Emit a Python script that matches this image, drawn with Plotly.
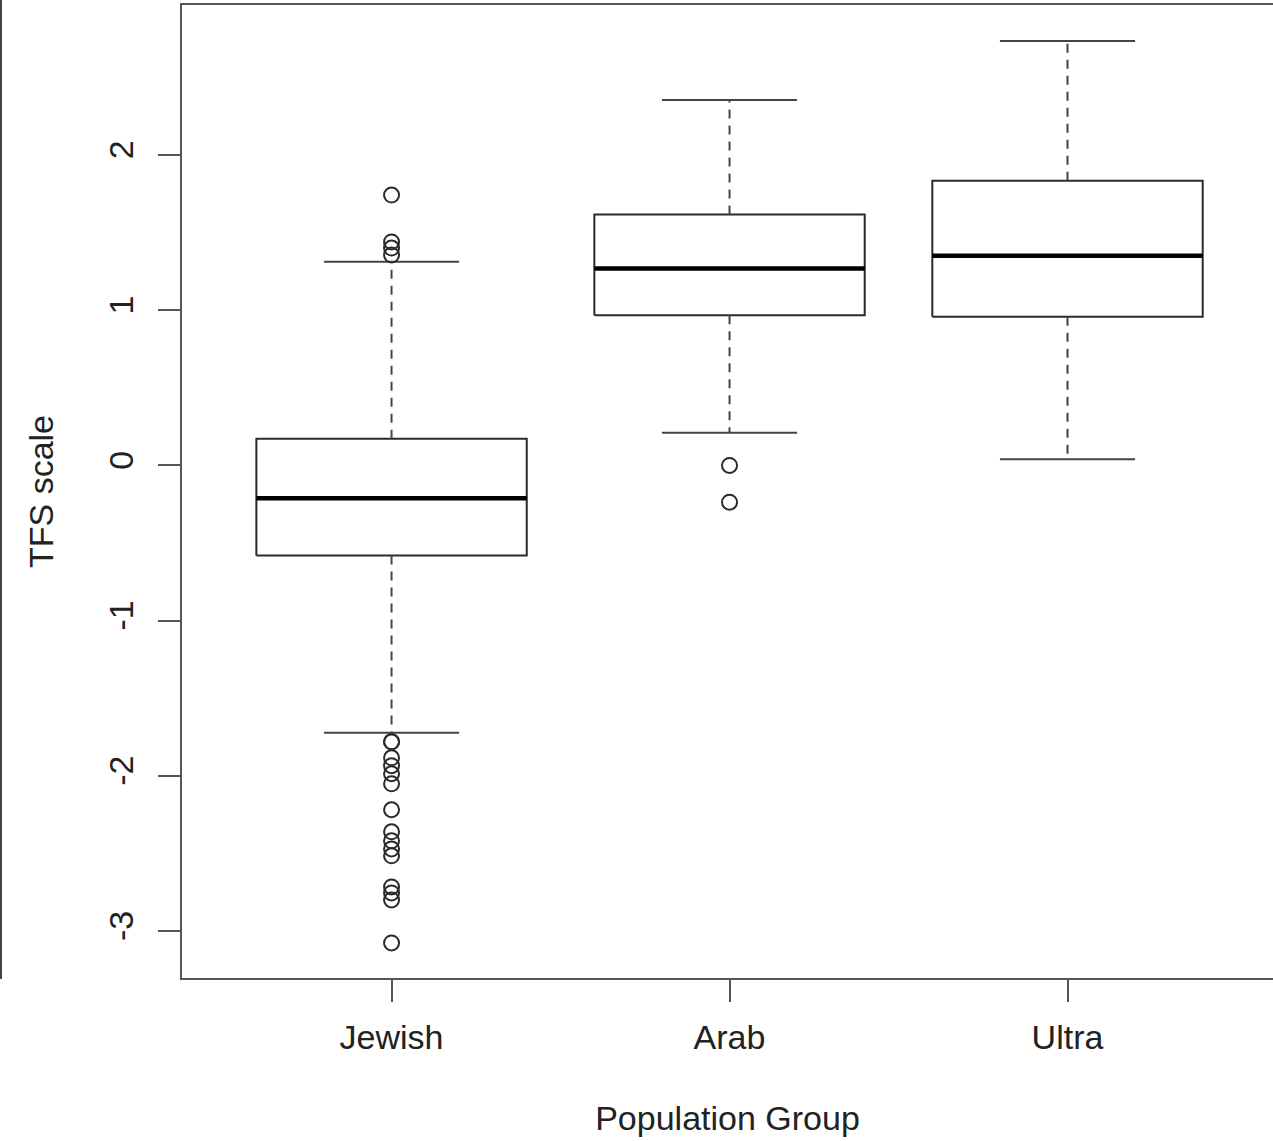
import plotly.graph_objects as go

# ---- data ----
groups = ["Jewish", "Arab", "Ultra"]
q1 = [-0.581, 0.968, 0.957]
median = [-0.211, 1.269, 1.350]
q3 = [0.172, 1.617, 1.834]
lower_whisker = [-1.723, 0.210, 0.039]
upper_whisker = [1.312, 2.355, 2.735]
outliers_jewish = [1.742, 1.440, 1.400, 1.355,
                   -1.781, -1.781, -1.884, -1.935, -1.987, -2.052, -2.219,
                   -2.361, -2.419, -2.471, -2.516, -2.716, -2.755, -2.800, -3.077]
outliers_arab = [0.0, -0.237]
outliers_ultra = []
outliers = [outliers_jewish, outliers_arab, outliers_ultra]

y_ticks = [-3, -2, -1, 0, 1, 2]

# ---- styles ----
BOX_HALF = 0.4
CAP_HALF = 0.2
LINE_COL = "#2a2a2a"
FONT = "Liberation Sans, Arial, Helvetica, sans-serif"

fig = go.Figure()

for i, g in enumerate(groups):
    x = i + 1
    # box
    fig.add_trace(go.Scatter(
        x=[x - BOX_HALF, x + BOX_HALF, x + BOX_HALF, x - BOX_HALF, x - BOX_HALF],
        y=[q1[i], q1[i], q3[i], q3[i], q1[i]],
        mode="lines", line=dict(color=LINE_COL, width=2), showlegend=False,
        hoverinfo="skip"))
    # median
    fig.add_trace(go.Scatter(
        x=[x - BOX_HALF, x + BOX_HALF], y=[median[i], median[i]],
        mode="lines", line=dict(color="#000000", width=4.5), showlegend=False,
        hoverinfo="skip"))
    # whiskers (dashed)
    for a, b in [(q3[i], upper_whisker[i]), (q1[i], lower_whisker[i])]:
        fig.add_trace(go.Scatter(
            x=[x, x], y=[a, b], mode="lines",
            line=dict(color="#444444", width=2, dash="9px,7px"),
            showlegend=False, hoverinfo="skip"))
    # caps
    for v in [upper_whisker[i], lower_whisker[i]]:
        fig.add_trace(go.Scatter(
            x=[x - CAP_HALF, x + CAP_HALF], y=[v, v], mode="lines",
            line=dict(color="#444444", width=2), showlegend=False,
            hoverinfo="skip"))
    # outliers
    if outliers[i]:
        fig.add_trace(go.Scatter(
            x=[x] * len(outliers[i]), y=outliers[i], mode="markers",
            marker=dict(symbol="circle-open", size=15, color=LINE_COL,
                        line=dict(color=LINE_COL, width=2)),
            showlegend=False, hoverinfo="skip"))

fig.update_layout(
    width=1273, height=1141,
    margin=dict(l=182, r=0, t=5, b=163),
    paper_bgcolor="white", plot_bgcolor="white",
    font=dict(family=FONT, size=34, color="#222222"),
    showlegend=False,
    xaxis=dict(
        range=[0.38, 3.608], tickvals=[1, 2, 3], ticktext=groups,
        showgrid=False, zeroline=False,
        showline=True, linecolor="#555555", linewidth=2, mirror=True,
        ticks="outside", ticklen=22, tickwidth=2, tickcolor="#555555",
        ticklabelstandoff=6,
        title=dict(text="Population Group", standoff=51,
                   font=dict(family=FONT, size=34, color="#222222")),
        automargin=False,
    ),
    yaxis=dict(
        range=[-3.303, 2.9665], tickvals=y_ticks,
        ticktext=[str(v) for v in y_ticks],
        showgrid=False, zeroline=False,
        showline=True, linecolor="#555555", linewidth=2, mirror=False,
        ticks="outside", ticklen=22, tickwidth=2, tickcolor="#555555",
        tickangle=-90, ticklabelstandoff=11,
        title=dict(text="TFS scale", standoff=39,
                   font=dict(family=FONT, size=34, color="#222222")),
        automargin=False,
    ),
    shapes=[dict(type="line", xref="paper", yref="paper",
                 x0=-181 / 1091, x1=-181 / 1091, y0=-1 / 973, y1=1 + 5 / 973,
                 line=dict(color="#444444", width=2))],
)

fig.write_html("out.html")
